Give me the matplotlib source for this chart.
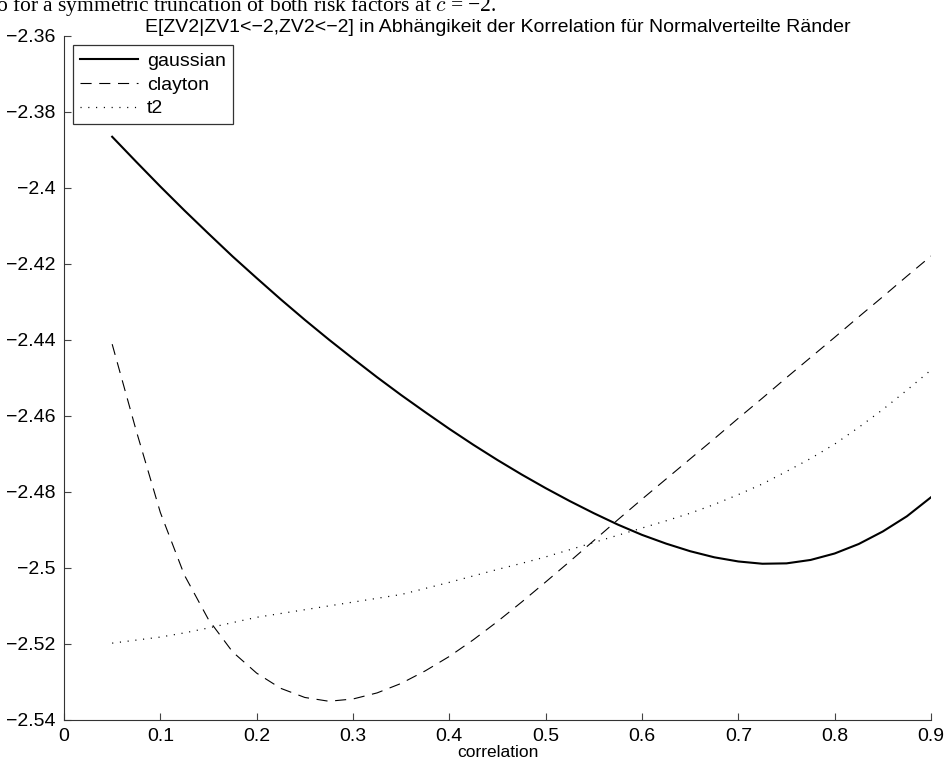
import matplotlib
matplotlib.use("Agg")
import matplotlib.pyplot as plt
from matplotlib.ticker import FixedLocator, FixedFormatter

# correlation grid (x axis)
correlation = [0.05, 0.075, 0.1, 0.125, 0.15, 0.175, 0.2, 0.225, 0.25, 0.275,
               0.3, 0.325, 0.35, 0.375, 0.4, 0.425, 0.45, 0.475, 0.5, 0.525,
               0.55, 0.575, 0.6, 0.625, 0.65, 0.675, 0.7, 0.725, 0.75, 0.775,
               0.8, 0.825, 0.85, 0.875, 0.9]

gaussian = [-2.3866, -2.3932, -2.3997, -2.4060, -2.4121, -2.4181, -2.4238,
            -2.4294, -2.4348, -2.4400, -2.4450, -2.4499, -2.4546, -2.4591,
            -2.4635, -2.4677, -2.4717, -2.4755, -2.4791, -2.4825, -2.4857,
            -2.4887, -2.4914, -2.4937, -2.4957, -2.4973, -2.4984, -2.4990,
            -2.4989, -2.4980, -2.4963, -2.4938, -2.4905, -2.4865, -2.4815]

clayton = [-2.4412, -2.4640, -2.4855, -2.5020, -2.5137, -2.5222, -2.5278,
           -2.5318, -2.5342, -2.5352, -2.5346, -2.5330, -2.5305, -2.5272,
           -2.5234, -2.5190, -2.5142, -2.5091, -2.5038, -2.4984, -2.4929,
           -2.4874, -2.4820, -2.4767, -2.4714, -2.4661, -2.4607, -2.4554,
           -2.4500, -2.4447, -2.4394, -2.4340, -2.4287, -2.4233, -2.4180]

t2 = [-2.5199, -2.5191, -2.5183, -2.5172, -2.5159, -2.5145, -2.5131,
      -2.5121, -2.5111, -2.5101, -2.5091, -2.5081, -2.5071, -2.5055,
      -2.5039, -2.5022, -2.5005, -2.4989, -2.4972, -2.4953, -2.4934,
      -2.4915, -2.4896, -2.4877, -2.4857, -2.4834, -2.4808, -2.4780,
      -2.4747, -2.4713, -2.4675, -2.4631, -2.4584, -2.4533, -2.4480]

series_names = ["gaussian", "clayton", "t2"]

x_ticks = [0, 0.1, 0.2, 0.3, 0.4, 0.5, 0.6, 0.7, 0.8, 0.9]
x_tick_labels = ["0", "0.1", "0.2", "0.3", "0.4", "0.5", "0.6", "0.7", "0.8", "0.9"]
y_ticks = [-2.54, -2.52, -2.5, -2.48, -2.46, -2.44, -2.42, -2.4, -2.38, -2.36]
y_tick_labels = ["\u22122.54", "\u22122.52", "\u22122.5", "\u22122.48", "\u22122.46",
                 "\u22122.44", "\u22122.42", "\u22122.4", "\u22122.38", "\u22122.36"]

title = ("E[ZV2|ZV1<\u22122,ZV2<\u22122] in Abh\u00e4ngikeit der Korrelation "
         "f\u00fcr Normalverteilte R\u00e4nder")
caption = "o for a symmetric truncation of both risk factors at $c$ = \u22122."

plt.rcParams["font.family"] = ["Liberation Sans", "DejaVu Sans"]
plt.rcParams["mathtext.fontset"] = "cm"
plt.rcParams["lines.scale_dashes"] = False

fig = plt.figure(figsize=(9.45, 7.67), dpi=100)
ax = fig.add_axes([64 / 945, 47.5 / 767, 867 / 945, 683.8 / 767])

ax.plot(correlation, gaussian, color="black", lw=1.5, label=series_names[0])
ax.plot(correlation, clayton, color="black", lw=0.8, dashes=(8, 5.5),
        label=series_names[1])
ax.plot(correlation, t2, color="black", lw=0.9, dashes=(0.8, 4.8),
        label=series_names[2])

ax.set_xlim(0, 0.9)
ax.set_ylim(-2.54, -2.36)
ax.xaxis.set_major_locator(FixedLocator(x_ticks))
ax.xaxis.set_major_formatter(FixedFormatter(x_tick_labels))
ax.yaxis.set_major_locator(FixedLocator(y_ticks))
ax.yaxis.set_major_formatter(FixedFormatter(y_tick_labels))

for side in ("top", "right"):
    ax.spines[side].set_visible(False)
for side in ("left", "bottom"):
    ax.spines[side].set_linewidth(0.8)
    ax.spines[side].set_color("#333333")
ax.tick_params(direction="in", length=5, width=0.8, color="#444444",
               labelsize=14)
ax.tick_params(axis="y", pad=6)
ax.tick_params(axis="x", pad=6)

ax.set_xlabel("correlation", fontsize=12.5, labelpad=0)
ax.set_title(title, fontsize=14, pad=2)

leg = ax.legend(loc="upper left", bbox_to_anchor=(0.0105, 0.986),
                fontsize=14, frameon=True, fancybox=False,
                handlelength=3.0, handletextpad=0.45, borderpad=0.35,
                labelspacing=0.32, borderaxespad=0)
leg.get_frame().set_edgecolor("black")
leg.get_frame().set_linewidth(0.9)

# caption of the surrounding document, cut off at the top edge
fig.text(-0.004, 1 - 11 / 767, caption, family=["Liberation Serif", "DejaVu Serif"],
         fontsize=15.5, ha="left", va="baseline")

fig.savefig("out.png", dpi=100)
